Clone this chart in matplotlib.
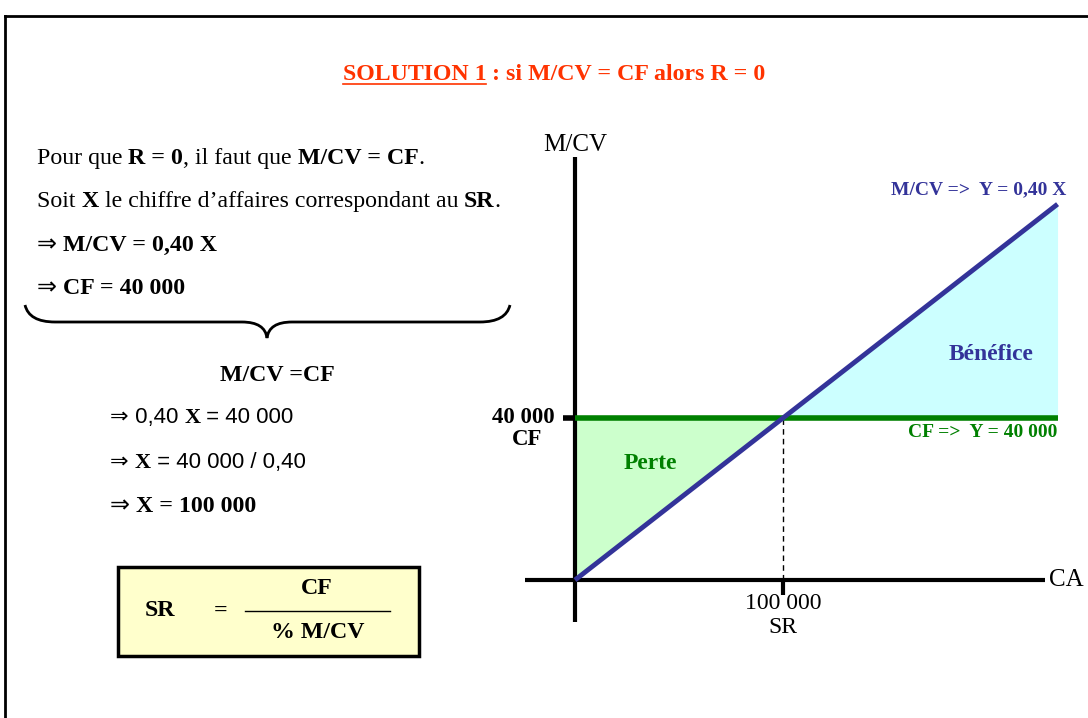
import matplotlib
matplotlib.use("Agg")
import matplotlib.pyplot as plt
from matplotlib.path import Path
from matplotlib.patches import PathPatch, Rectangle
from matplotlib.lines import Line2D

W, H = 1088, 718

# break-even data
cf = 40000            # charges fixes
taux_mcv = 0.40       # taux de marge sur coût variable
sr = 100000           # seuil de rentabilité
ca_max = 232000       # chiffre d'affaires max du graphique
ca_vals = [0, sr, ca_max]
mcv_vals = [taux_mcv * v for v in ca_vals]
cf_vals = [cf, cf, cf]

BLUE = "#333399"
GREEN = "#008000"
RED = "#FF3300"
SERIF = ["Liberation Serif", "DejaVu Serif"]
SANS = ["Liberation Sans", "DejaVu Sans"]
ARROW = ["DejaVu Sans"]
FS = 17.2

fig = plt.figure(figsize=(W / 100, H / 100), dpi=100)
fig.patch.set_facecolor("white")
renderer = fig.canvas.get_renderer()


def fx(x):
    return x / W


def fy(y):
    return 1 - y / H


def runs(x, y, parts, size=FS, color="black", ha="left"):
    """draw a line of text made of (string, bold, family) pieces, y is the baseline"""
    texts = []
    cx = x
    for s, bold, fam in parts:
        t = fig.text(fx(cx), fy(y), s, fontsize=size, color=color, family=fam,
                     fontweight="bold" if bold else "normal", va="baseline", ha="left")
        cx += t.get_window_extent(renderer).width
        texts.append(t)
    total = cx - x
    if ha == "center":
        for t in texts:
            px, py = t.get_position()
            t.set_position((px - total / 2 / W, py))
    return texts, total


# outer frame (top and left)
fig.add_artist(Line2D([fx(5), 1], [fy(16), fy(16)], color="black", lw=2))
fig.add_artist(Line2D([fx(5), fx(5)], [fy(16), 0], color="black", lw=2))

# title
tt, tw = runs(554, 80, [("SOLUTION 1", True, SERIF),
                        (" : si M/CV = CF alors R = 0", True, SERIF)],
              color=RED, ha="center")
bb = tt[0].get_window_extent(renderer)
fig.add_artist(Line2D([bb.x0 / W, bb.x1 / W], [fy(84), fy(84)], color=RED, lw=1.2))

# left explanation
runs(37, 164, [("Pour que ", False, SERIF), ("R = 0", True, SERIF), (", il faut que ", False, SERIF),
               ("M/CV = CF", True, SERIF), (".", False, SERIF)])
runs(37, 207, [("Soit ", False, SERIF), ("X", True, SERIF),
               (" le chiffre d\u2019affaires correspondant au ", False, SERIF), ("SR", True, SERIF),
               (".", False, SERIF)])
runs(37, 251, [("\u21d2", False, ARROW), (" M/CV = 0,40 X", True, SERIF)])
runs(37, 294, [("\u21d2", False, ARROW), (" CF = 40 000", True, SERIF)])

# brace
bx0, bx1, btop, bmid, btip = 25, 510, 305, 322, 338
cxm = 267
verts = [(bx0, btop), (bx0 + 4, bmid), (bx0 + 30, bmid), (bx0 + 30, bmid),
         (cxm - 25, bmid), (cxm - 25, bmid), (cxm - 2, bmid), (cxm, btip),
         (cxm + 2, bmid), (cxm + 25, bmid), (cxm + 25, bmid),
         (bx1 - 30, bmid), (bx1 - 30, bmid), (bx1 - 4, bmid), (bx1, btop)]
codes = [Path.MOVETO, Path.CURVE3, Path.CURVE3, Path.LINETO,
         Path.LINETO, Path.LINETO, Path.CURVE3, Path.CURVE3,
         Path.CURVE3, Path.CURVE3, Path.LINETO,
         Path.LINETO, Path.LINETO, Path.CURVE3, Path.CURVE3]
brace = Path([(fx(a), fy(b)) for a, b in verts], codes)
fig.add_artist(PathPatch(brace, transform=fig.transFigure, fill=False, lw=2, color="black"))

runs(277, 381, [("M/CV =CF", True, SERIF)], ha="center")
runs(110, 423, [("\u21d2", False, ARROW), (" 0,40 ", False, SANS), ("X", True, SERIF),
                (" = 40 000", False, SANS)], size=16)
runs(110, 468, [("\u21d2", False, ARROW), (" ", False, SANS), ("X", True, SERIF),
                (" = 40 000 / 0,40", False, SANS)], size=16)
runs(110, 512, [("\u21d2", False, ARROW), (" X = 100 000", True, SERIF)])

# formula box
fig.add_artist(Rectangle((fx(118), fy(656)), (419 - 118) / W, (656 - 567) / H,
                         transform=fig.transFigure, facecolor="#FFFFCC",
                         edgecolor="black", lw=2.5))
for x, y, s in [(160, 611, "SR"), (221, 611, "="), (317, 589, "CF"), (318, 633, "% M/CV")]:
    fig.text(fx(x), fy(y), s, fontsize=FS, fontweight="bold", family=SERIF, ha="center", va="center")
fig.add_artist(Line2D([fx(245), fx(390)], [fy(611), fy(611)], color="black", lw=1))

# chart axes: pixel box 500..1088 x 130..640
ax = fig.add_axes([fx(500), fy(640), (1088 - 500) / W, (640 - 130) / H])
ax.set_xlim(-36058, 246635)
ax.set_ylim(-14815, 111111)
ax.axis("off")

ax.fill_between(ca_vals, mcv_vals, cf_vals, where=[v <= c for v, c in zip(mcv_vals, cf_vals)],
                interpolate=True, color="#CCFFCC", lw=0)
ax.fill_between(ca_vals, mcv_vals, cf_vals, where=[v >= c for v, c in zip(mcv_vals, cf_vals)],
                interpolate=True, color="#CCFFFF", lw=0)

# axes lines
ax.plot([-24000, 226000], [0, 0], color="black", lw=3, solid_capstyle="butt")
ax.plot([0, 0], [-10400, 104400], color="black", lw=3, solid_capstyle="butt")
ax.plot([-6000, 0], [cf, cf], color="black", lw=4, solid_capstyle="butt")
ax.plot([sr, sr], [0, -3700], color="black", lw=3, solid_capstyle="butt")
ax.plot([sr, sr], [0, cf], color="black", lw=1, ls=(0, (4, 3)))

ax.plot(ca_vals, cf_vals, color=GREEN, lw=4, solid_capstyle="butt")
ax.plot(ca_vals, mcv_vals, color=BLUE, lw=3.5, solid_capstyle="butt")

ax.text(-10000, cf, "40 000", fontsize=16.5, fontweight="bold", family=SERIF, ha="right", va="center")
ax.text(-23000, cf - 5300, "CF", fontsize=16.5, fontweight="bold", family=SERIF, ha="center", va="center")
ax.text(sr, -5800, "100 000", fontsize=17, family=SERIF, ha="center", va="center")
ax.text(sr, -11700, "SR", fontsize=17, family=SERIF, ha="center", va="center")
ax.text(228000, 0, "CA", fontsize=18, family=SERIF, ha="left", va="center")
ax.text(0, 107500, "M/CV", fontsize=18, family=SERIF, ha="center", va="center")

ax.text(ca_max + 4000, taux_mcv * ca_max + 3500, "M/CV =>  Y = 0,40 X", fontsize=14,
        fontweight="bold", family=SERIF, color=BLUE, ha="right", va="center")
ax.text(ca_max, cf - 3500, "CF =>  Y = 40 000", fontsize=14, fontweight="bold",
        family=SERIF, color=GREEN, ha="right", va="center")
ax.text(200000, 55800, "Bénéfice", fontsize=17, fontweight="bold", family=SERIF,
        color=BLUE, ha="center", va="center")
ax.text(36000, 28800, "Perte", fontsize=17, fontweight="bold", family=SERIF,
        color=GREEN, ha="center", va="center")

fig.savefig("out.png", dpi=100)
